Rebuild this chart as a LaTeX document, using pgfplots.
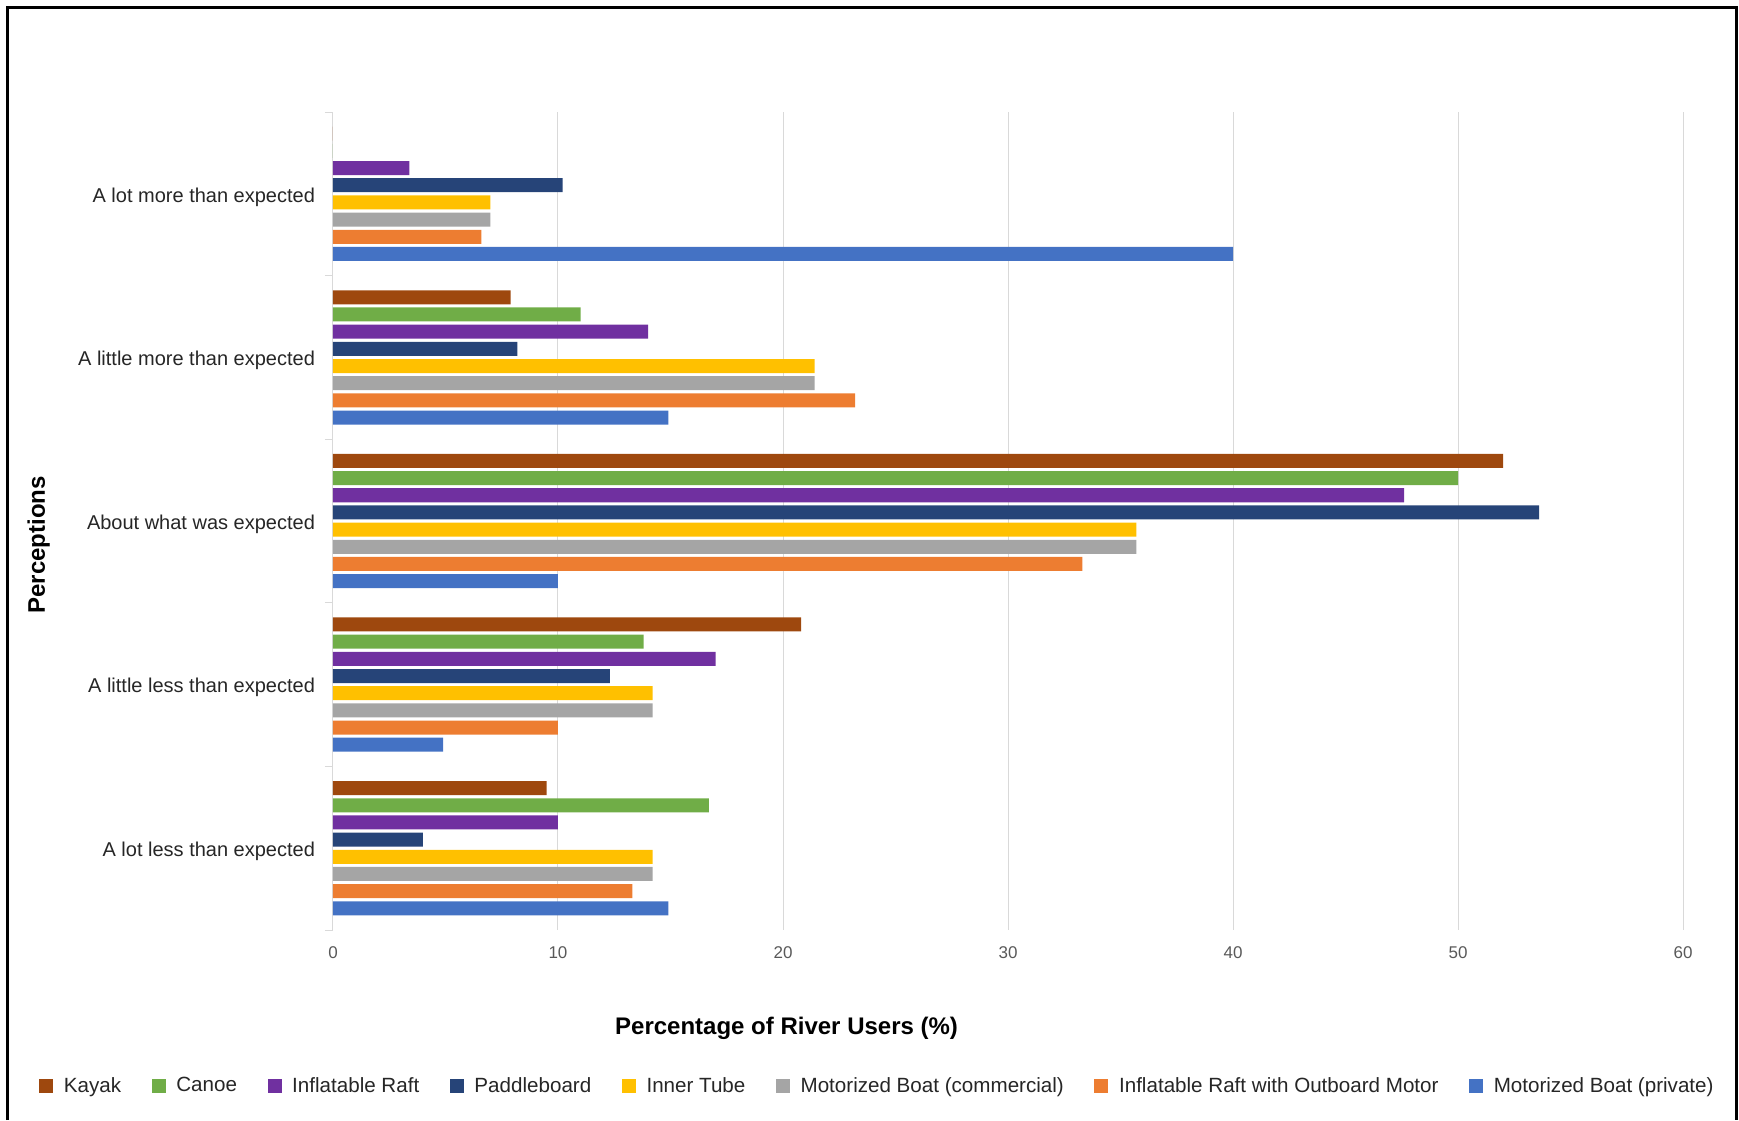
\documentclass[border=0pt]{standalone}
\usepackage{fontspec}
\setmainfont{Liberation Sans}
\usepackage{pgfplots}
\pgfplotsset{compat=1.18}

\definecolor{cKayak}{HTML}{9E480E}
\definecolor{cCanoe}{HTML}{70AD47}
\definecolor{cRaft}{HTML}{7030A0}
\definecolor{cPaddle}{HTML}{264478}
\definecolor{cTube}{HTML}{FFC000}
\definecolor{cMotorCom}{HTML}{A5A5A5}
\definecolor{cRaftMotor}{HTML}{ED7D31}
\definecolor{cMotorPriv}{HTML}{4472C4}
\definecolor{gridgray}{HTML}{D9D9D9}
\definecolor{ticktext}{HTML}{595959}
\definecolor{labeltext}{HTML}{262626}

% categories: 0 = A lot more ... 4 = A lot less
\begin{document}
\begin{tikzpicture}
\begin{axis}[
  scale only axis,
  width=675pt, height=409pt,
  xmin=0, xmax=60,
  ymin=-0.5, ymax=4.5,
  y dir=reverse,
  xbar,
  bar width=0.0856,
  xtick={0,10,...,60},
  ytick={0,1,2,3,4},
  yticklabels={A lot more than expected, A little more than expected, About what was expected, A little less than expected, A lot less than expected},
  minor ytick={-0.5,0.5,1.5,2.5,3.5,4.5},
  xtick pos=bottom, ytick pos=left,
  xmajorgrids,
  major grid style={draw=gridgray, line width=0.5pt},
  axis line style={draw=none},
  major tick length=0pt,
  minor tick length=4pt,
  tick align=outside,
  minor tick style={draw=gridgray, line width=0.5pt},
  /pgf/number format/assume math mode=true,
  xticklabel style={font=\fontsize{8.5}{10}\selectfont, text=ticktext, yshift=-5pt},
  yticklabel style={font=\fontsize{10}{12}\selectfont, text=labeltext, xshift=-5.5pt, yshift=-1.6pt},
  xlabel={Percentage of River Users (\%)},
  xlabel style={at={(axis description cs:0.336,-0.12)}, anchor=center, font=\bfseries\fontsize{12}{14}\selectfont},
  ylabel={Perceptions},
  ylabel style={at={(axis description cs:-0.218,0.471)}, anchor=center, font=\bfseries\fontsize{12}{14}\selectfont},
  legend columns=8,
  legend style={at={(axis description cs:0.404,-0.191)}, anchor=center, draw=none, fill=none,
    font=\fontsize{10.3}{12}\selectfont, text=labeltext,
    /tikz/every odd column/.append style={column sep=3.3pt},
    /tikz/every even column/.append style={column sep=13.3pt}},
  legend image code/.code={\fill[#1] (0pt,-3.5pt) rectangle (7pt,3.5pt);},
]
\addplot[fill=cKayak, draw=none, bar shift=-0.3675] coordinates {(0,0) (7.9,1) (52.0,2) (20.8,3) (9.5,4)};
\addplot[fill=cCanoe, draw=none, bar shift=-0.2625] coordinates {(0,0) (11.0,1) (50.0,2) (13.8,3) (16.7,4)};
\addplot[fill=cRaft, draw=none, bar shift=-0.1575] coordinates {(3.4,0) (14.0,1) (47.6,2) (17.0,3) (10.0,4)};
\addplot[fill=cPaddle, draw=none, bar shift=-0.0525] coordinates {(10.2,0) (8.2,1) (53.6,2) (12.3,3) (4.0,4)};
\addplot[fill=cTube, draw=none, bar shift=0.0525] coordinates {(7.0,0) (21.4,1) (35.7,2) (14.2,3) (14.2,4)};
\addplot[fill=cMotorCom, draw=none, bar shift=0.1575] coordinates {(7.0,0) (21.4,1) (35.7,2) (14.2,3) (14.2,4)};
\addplot[fill=cRaftMotor, draw=none, bar shift=0.2625] coordinates {(6.6,0) (23.2,1) (33.3,2) (10.0,3) (13.3,4)};
\addplot[fill=cMotorPriv, draw=none, bar shift=0.3675] coordinates {(40.0,0) (14.9,1) (10.0,2) (4.9,3) (14.9,4)};
\legend{Kayak, Canoe, Inflatable Raft, Paddleboard, Inner Tube, Motorized Boat (commercial), Inflatable Raft with Outboard Motor, Motorized Boat (private)}
\end{axis}
\pgfresetboundingbox
\path[use as bounding box] (-166.5pt,-95pt) rectangle (703pt,465pt);
\draw[line width=1.5pt] (-162.5pt,-95pt) -- (-162.5pt,461pt) -- (701.5pt,461pt) -- (701.5pt,-95pt);
\end{tikzpicture}
\end{document}
